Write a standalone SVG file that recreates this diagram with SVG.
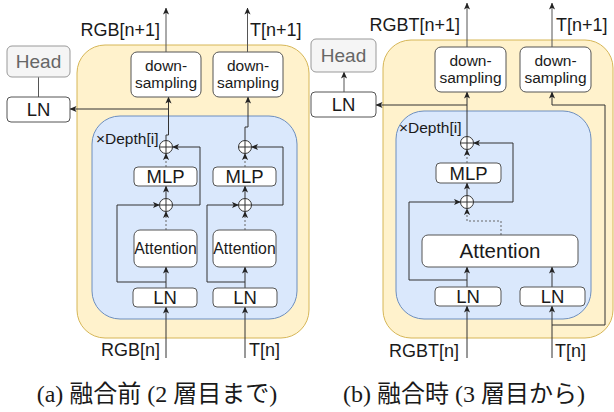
<svg xmlns="http://www.w3.org/2000/svg" width="614" height="412" viewBox="0 0 614 412">
<style>
.yel{fill:#fff2cc;stroke:#d6b656;stroke-width:1}
.blu{fill:#dae8fc;stroke:#6c8ebf;stroke-width:1}
.box{fill:#ffffff;stroke:#555;stroke-width:1}
.head{fill:#f5f5f5;stroke:#999;stroke-width:1}
.t{font-family:"Liberation Sans",Arial,sans-serif;fill:#1a1a1a}
.th{font-family:"Liberation Sans",Arial,sans-serif;fill:#666}
.cap{font-family:"Liberation Serif","Noto Sans CJK JP",serif;font-size:24px;fill:#1a1a1a}
.ln{fill:none;stroke:#333;stroke-width:1}
.out{fill:none;stroke:#555;stroke-width:1}
.dash{fill:none;stroke:#666;stroke-width:1;stroke-dasharray:2,2}
.plus{fill:#fff;stroke:#333;stroke-width:1}
</style>
<defs>
<marker id="arr" viewBox="0 0 8 8" refX="7.5" refY="4" markerWidth="7" markerHeight="7" markerUnits="userSpaceOnUse" orient="auto">
<path d="M0,0.5 L8,4 L0,7.5 L2,4 z" fill="#222"/>
</marker>
<g id="oplus">
<circle cx="0" cy="0" r="6.5" class="plus"/>
<path d="M-6.5,0 H6.5 M0,-6.5 V6.5" stroke="#333" stroke-width="1"/>
</g>
</defs>

<!-- Panel (a) containers -->
<g id="a-fuse">
<rect x="77" y="45" width="232" height="293" rx="28" class="yel"/>
</g>
<g id="a-block">
<rect x="92" y="116" width="205" height="203" rx="28" class="blu"/>
<text x="96" y="144" class="t" font-size="15.5">×Depth[i]</text>
</g>

<!-- Panel (b) containers -->
<g id="b-fuse">
<rect x="383" y="40" width="230" height="298" rx="28" class="yel"/>
</g>
<g id="b-block">
<rect x="396" y="111" width="195" height="208" rx="28" class="blu"/>
<text x="399" y="133" class="t" font-size="15.5">×Depth[i]</text>
</g>

<!-- connectors -->
<g id="connectors">
<!-- (a) -->
<path d="M38.5,77 V97" class="out"/>
<path d="M166,52 V8" class="out" marker-end="url(#arr)"/>
<path d="M247.5,52 V8" class="out" marker-end="url(#arr)"/>
<path d="M166,140.5 V135 H168.5 V97" class="ln" marker-end="url(#arr)"/>
<path d="M168.5,109 H70" class="ln" marker-end="url(#arr)"/>
<path d="M245,140.5 V127 H248 V97" class="ln" marker-end="url(#arr)"/>

<path d="M166,358 V307" class="ln" marker-end="url(#arr)"/>
<path d="M166,288 V267" class="ln" marker-end="url(#arr)"/>
<path d="M166,282 H117 V205 H159.5" class="ln" marker-end="url(#arr)"/>
<path d="M166,230 V211.5" class="dash" marker-end="url(#arr)"/>
<path d="M166,198.5 V186" class="ln" marker-end="url(#arr)"/>
<path d="M166,167 V153.5" class="dash" marker-end="url(#arr)"/>
<path d="M172.5,205 H200 V147 H172.5" class="ln" marker-end="url(#arr)"/>

<path d="M245,358 V307" class="ln" marker-end="url(#arr)"/>
<path d="M245,288 V267" class="ln" marker-end="url(#arr)"/>
<path d="M245,282 H207 V205 H238.5" class="ln" marker-end="url(#arr)"/>
<path d="M245,230 V211.5" class="dash" marker-end="url(#arr)"/>
<path d="M245,198.5 V186" class="ln" marker-end="url(#arr)"/>
<path d="M245,167 V153.5" class="dash" marker-end="url(#arr)"/>
<path d="M251.5,205 H283 V147 H251.5" class="ln" marker-end="url(#arr)"/>

<!-- (b) -->
<path d="M344,92 V72" class="out" marker-end="url(#arr)"/>
<path d="M467,47 V3" class="out" marker-end="url(#arr)"/>
<path d="M552,47 V3" class="out" marker-end="url(#arr)"/>
<path d="M467,136.5 V92" class="ln" marker-end="url(#arr)"/>
<path d="M467,105 H376" class="ln" marker-end="url(#arr)"/>
<path d="M552,325 H605 V105 H552 V92" class="ln" marker-end="url(#arr)"/>

<path d="M467,358 V306" class="ln" marker-end="url(#arr)"/>
<path d="M552,358 V306" class="ln" marker-end="url(#arr)"/>
<path d="M467,287 V267" class="ln" marker-end="url(#arr)"/>
<path d="M552,287 V267" class="ln" marker-end="url(#arr)"/>
<path d="M467,280 H409 V202 H460.5" class="ln" marker-end="url(#arr)"/>
<path d="M501,235 V221 H467 V208.5" class="dash" marker-end="url(#arr)"/>
<path d="M467,195.5 V183" class="ln" marker-end="url(#arr)"/>
<path d="M467,163 V149.5" class="dash" marker-end="url(#arr)"/>
<path d="M473.5,202 H513 V143 H473.5" class="ln" marker-end="url(#arr)"/>
</g>

<!-- (a) nodes -->
<g id="a-head"><rect x="7" y="46" width="63" height="31" rx="5" class="head"/><text x="38.5" y="68" text-anchor="middle" class="th" font-size="19">Head</text></g>
<g id="a-ln-head"><rect x="7" y="97" width="63" height="25" rx="4" class="box"/><text x="38.5" y="116" text-anchor="middle" class="t" font-size="18.5">LN</text></g>
<g id="a-down-rgb"><rect x="131" y="52" width="70" height="45" rx="6" class="box"/><text x="166" y="71" text-anchor="middle" class="t" font-size="15.5">down-</text><text x="166" y="88" text-anchor="middle" class="t" font-size="15.5">sampling</text></g>
<g id="a-down-t"><rect x="213" y="52" width="70" height="45" rx="6" class="box"/><text x="248" y="71" text-anchor="middle" class="t" font-size="15.5">down-</text><text x="248" y="88" text-anchor="middle" class="t" font-size="15.5">sampling</text></g>

<g id="a-add2-rgb"><use href="#oplus" x="166" y="147"/></g>
<g id="a-mlp-rgb"><rect x="134" y="167" width="63" height="19" rx="4" class="box"/><text x="165.5" y="183" text-anchor="middle" class="t" font-size="18.5">MLP</text></g>
<g id="a-add1-rgb"><use href="#oplus" x="166" y="205"/></g>
<g id="a-attn-rgb"><rect x="134" y="230" width="63" height="37" rx="6" class="box"/><text x="165.5" y="254" text-anchor="middle" class="t" font-size="15.8">Attention</text></g>
<g id="a-ln-rgb"><rect x="133" y="288" width="64" height="19" rx="4" class="box"/><text x="165" y="304" text-anchor="middle" class="t" font-size="18.5">LN</text></g>

<g id="a-add2-t"><use href="#oplus" x="245" y="147"/></g>
<g id="a-mlp-t"><rect x="213" y="167" width="63" height="19" rx="4" class="box"/><text x="244.5" y="183" text-anchor="middle" class="t" font-size="18.5">MLP</text></g>
<g id="a-add1-t"><use href="#oplus" x="245" y="205"/></g>
<g id="a-attn-t"><rect x="213" y="230" width="63" height="37" rx="6" class="box"/><text x="244.5" y="254" text-anchor="middle" class="t" font-size="15.8">Attention</text></g>
<g id="a-ln-t"><rect x="213" y="288" width="64" height="19" rx="4" class="box"/><text x="245" y="304" text-anchor="middle" class="t" font-size="18.5">LN</text></g>

<g id="a-labels">
<text x="160" y="36" text-anchor="end" class="t" font-size="18">RGB[n+1]</text>
<text x="250" y="36" class="t" font-size="18">T[n+1]</text>
<text x="160" y="356" text-anchor="end" class="t" font-size="18">RGB[n]</text>
<text x="249" y="356" class="t" font-size="18">T[n]</text>
</g>

<!-- (b) nodes -->
<g id="b-head"><rect x="311" y="39" width="65" height="33" rx="5" class="head"/><text x="343.5" y="62" text-anchor="middle" class="th" font-size="19">Head</text></g>
<g id="b-ln-head"><rect x="311" y="92" width="65" height="25" rx="4" class="box"/><text x="343.5" y="111" text-anchor="middle" class="t" font-size="18.5">LN</text></g>
<g id="b-down-rgbt"><rect x="435" y="47" width="71" height="45" rx="6" class="box"/><text x="470.5" y="66" text-anchor="middle" class="t" font-size="15.5">down-</text><text x="470.5" y="83" text-anchor="middle" class="t" font-size="15.5">sampling</text></g>
<g id="b-down-t"><rect x="520" y="47" width="71" height="45" rx="6" class="box"/><text x="555.5" y="66" text-anchor="middle" class="t" font-size="15.5">down-</text><text x="555.5" y="83" text-anchor="middle" class="t" font-size="15.5">sampling</text></g>

<g id="b-add2"><use href="#oplus" x="467" y="143"/></g>
<g id="b-mlp"><rect x="436" y="163" width="65" height="20" rx="4" class="box"/><text x="468.5" y="180" text-anchor="middle" class="t" font-size="18.5">MLP</text></g>
<g id="b-add1"><use href="#oplus" x="467" y="202"/></g>
<g id="b-attn"><rect x="422" y="235" width="156" height="32" rx="6" class="box"/><text x="500" y="258" text-anchor="middle" class="t" font-size="20.5">Attention</text></g>
<g id="b-ln-rgbt"><rect x="435" y="287" width="66" height="19" rx="4" class="box"/><text x="468" y="303" text-anchor="middle" class="t" font-size="18.5">LN</text></g>
<g id="b-ln-t"><rect x="520" y="287" width="65" height="19" rx="4" class="box"/><text x="552.5" y="303" text-anchor="middle" class="t" font-size="18.5">LN</text></g>

<g id="b-labels">
<text x="460" y="31" text-anchor="end" class="t" font-size="18">RGBT[n+1]</text>
<text x="556" y="31" class="t" font-size="18">T[n+1]</text>
<text x="459" y="357" text-anchor="end" class="t" font-size="18">RGBT[n]</text>
<text x="555" y="357" class="t" font-size="18">T[n]</text>
</g>

<g id="captions">
<text x="157" y="402" text-anchor="middle" class="cap">(a) 融合前 (2 層目まで)</text>
<text x="464" y="402" text-anchor="middle" class="cap">(b) 融合時 (3 層目から)</text>
</g>
</svg>
